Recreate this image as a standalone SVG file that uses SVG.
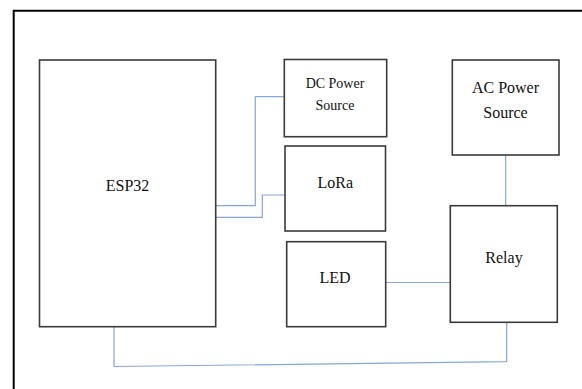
<svg xmlns="http://www.w3.org/2000/svg" width="582" height="389" viewBox="0 0 582 389">
<style>
.box{fill:#fff;stroke:#3a3a3a;stroke-width:1.6}
.lbl{font-family:"Liberation Serif","Times New Roman",serif;fill:#111;text-anchor:middle}
.con{fill:none;stroke:#86a6de;stroke-width:1.2}
</style>
<rect width="582" height="389" fill="#fff"/>
<path d="M13.7,395 V10.7 H590" fill="none" stroke="#000" stroke-width="2"/>
<g id="connectors">
<path class="con" d="M216,205.7 H255.3 V96.7 H284"/>
<path class="con" d="M216,217.3 H262.3 V195 H285"/>
<path class="con" d="M385.5,282.5 H450"/>
<path class="con" d="M505.7,155 V205.5"/>
<path class="con" d="M114,327 V366.5 L506.7,361.7 V322.5"/>
</g>
<g id="esp32">
<rect class="box" x="39.5" y="60" width="176.2" height="266.7"/>
<text class="lbl" x="127.6" y="191" font-size="16">ESP32</text>
</g>
<g id="dc-power">
<rect class="box" x="284.3" y="59.5" width="102.4" height="77.2"/>
<text class="lbl" x="335" y="87.5" font-size="14">DC Power</text>
<text class="lbl" x="335" y="110" font-size="14">Source</text>
</g>
<g id="lora">
<rect class="box" x="285" y="146" width="100.5" height="85"/>
<text class="lbl" x="335.3" y="188" font-size="16">LoRa</text>
</g>
<g id="led">
<rect class="box" x="286.7" y="241.7" width="99" height="85"/>
<text class="lbl" x="335" y="283.3" font-size="16">LED</text>
</g>
<g id="ac-power">
<rect class="box" x="452.3" y="60" width="106.7" height="95"/>
<text class="lbl" x="505.5" y="93.3" font-size="16">AC Power</text>
<text class="lbl" x="505.5" y="117.7" font-size="16">Source</text>
</g>
<g id="relay">
<rect class="box" x="450.3" y="205.7" width="107" height="116.6"/>
<text class="lbl" x="504" y="263.3" font-size="16">Relay</text>
</g>
</svg>
